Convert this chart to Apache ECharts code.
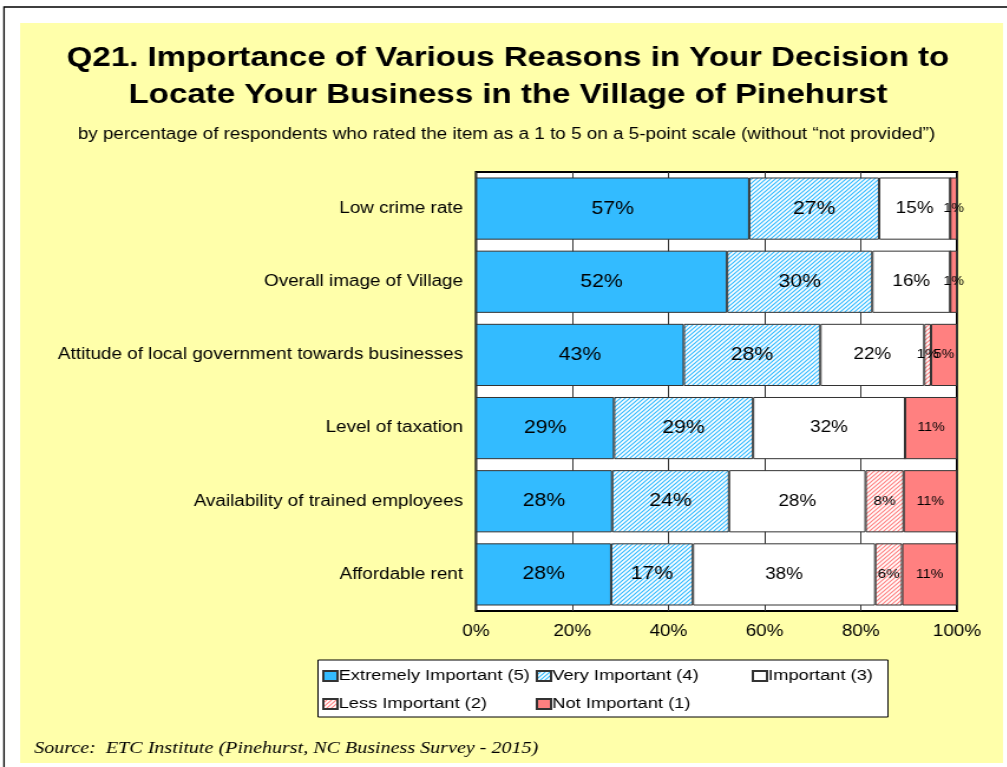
<!DOCTYPE html>
<html>
<head>
<meta charset="utf-8">
<script src="https://cdn.jsdelivr.net/npm/echarts@6/dist/echarts.min.js"></script>
<style>
  html, body { margin: 0; padding: 0; background: #ffffff; overflow: hidden; }
  /* the slide is laid out narrow and widened horizontally, like the printed handout */
  #chart { width: 853px; height: 767px; transform: scaleX(1.18); transform-origin: 0 0; }
</style>
</head>
<body>
<div id="chart"></div>
<script>
// Survey items (top to bottom)
const categories = [
  'Low crime rate',
  'Overall image of Village',
  'Attitude of local government towards businesses',
  'Level of taxation',
  'Availability of trained employees',
  'Affordable rent'
];

// Rating levels
const seriesNames = [
  'Extremely Important (5)',
  'Very Important (4)',
  'Important (3)',
  'Less Important (2)',
  'Not Important (1)'
];

// Percent of respondents per rating, one value per item
const extremelyImportant = [56.8, 52.2, 43.2, 28.7, 28.3, 28.1];
const veryImportant      = [27.0, 30.2, 28.4, 28.9, 24.3, 17.0];
const important          = [14.8, 16.2, 21.6, 31.6, 28.4, 37.9];
const lessImportant      = [0,    0,    1.4,  0,    7.9,  5.6];
const notImportant       = [1.4,  1.4,  5.4,  10.8, 11.1, 11.4];

const xTicks = [0, 20, 40, 60, 80, 100];

const titleText = 'Q21. Importance of Various Reasons in Your Decision to\nLocate Your Business in the Village of Pinehurst';
const subtitleText = 'by percentage of respondents who rated the item as a 1 to 5 on a 5-point scale (without \u201cnot provided\u201d)';
const sourceText = 'Source:  ETC Institute (Pinehurst, NC Business Survey - 2015)';

const FONT = '"Liberation Sans", Arial, sans-serif';

// Diagonal hatch fill used for the "4" and "2" ratings
function hatch(color) {
  const c = document.createElement('canvas');
  c.width = 4; c.height = 4;
  const g = c.getContext('2d');
  g.fillStyle = '#ffffff';
  g.fillRect(0, 0, 4, 4);
  g.strokeStyle = color;
  g.lineWidth = 1.2;
  g.beginPath();
  g.moveTo(-1, 5); g.lineTo(5, -1);
  g.moveTo(-1, 1); g.lineTo(1, -1);
  g.moveTo(3, 5); g.lineTo(5, 3);
  g.stroke();
  return { image: c, repeat: 'repeat' };
}

const BLUE = '#33BBFF';
const RED = '#FF8080';

const fills = [BLUE, hatch(BLUE), '#ffffff', hatch(RED), RED];
const values = [extremelyImportant, veryImportant, important, lessImportant, notImportant];
const labelSizes = [18, 18, 16, 13, 12];

const series = seriesNames.map((name, i) => ({
  name: name,
  type: 'bar',
  stack: 'total',
  barCategoryGap: '15%',
  data: values[i],
  itemStyle: { color: fills[i], borderColor: '#333333', borderWidth: 1 },
  label: {
    show: true,
    position: 'inside',
    color: '#000000',
    fontFamily: FONT,
    fontSize: labelSizes[i],
    formatter: p => (p.value > 0 ? Math.round(p.value) + '%' : '')
  },
  emphasis: { disabled: true }
}));

const legendCommon = {
  orient: 'vertical',
  itemWidth: 12,
  itemHeight: 10,
  itemGap: 12,
  icon: 'rect',
  textStyle: { fontFamily: FONT, fontSize: 15.5, color: '#000000', padding: [0, 0, 0, -4] },
  selectedMode: false
};

const chart = echarts.init(document.getElementById('chart'), null, { renderer: 'canvas' });

chart.setOption({
  backgroundColor: '#ffffff',
  animation: false,
  graphic: [
    // page frame
    { type: 'rect', z: -10, shape: { x: 3.4, y: 7, width: 900, height: 770 },
      style: { fill: '#ffffff', stroke: '#000000', lineWidth: 1.3 } },
    // yellow panel
    { type: 'rect', z: -9, shape: { x: 17, y: 23, width: 833, height: 740 },
      style: { fill: '#FFFFAA' } },
    // legend frame
    { type: 'rect', z: 0, shape: { x: 269.5, y: 660, width: 483, height: 57 },
      style: { fill: '#ffffff', stroke: '#000000', lineWidth: 1 } },
    // heading, two centred lines
    { type: 'text', x: 430.5, y: 40, z: 5,
      style: { text: titleText, fill: '#000000', font: 'bold 28px ' + FONT,
               align: 'center', verticalAlign: 'top', lineHeight: 37 } },
    // sub-heading
    { type: 'text', x: 429.2, y: 127, z: 5,
      style: { text: subtitleText, fill: '#000000', font: '16px ' + FONT,
               align: 'center', verticalAlign: 'top' } }
  ],
  title: [
    {
      text: sourceText,
      left: 24,
      top: 735,
      textStyle: { fontFamily: '"Liberation Serif", "Times New Roman", serif', fontSize: 17, fontStyle: 'italic', fontWeight: 'normal', color: '#000000' }
    }
  ],
  legend: [
    Object.assign({}, legendCommon, { left: 268, top: 663, data: [seriesNames[0], seriesNames[3]] }),
    Object.assign({}, legendCommon, { left: 449, top: 663, data: [seriesNames[1], seriesNames[4]] }),
    Object.assign({}, legendCommon, { left: 632, top: 663, data: [seriesNames[2]] })
  ],
  grid: {
    left: 403.4,
    right: 42,
    top: 172,
    bottom: 156,
    show: true,
    backgroundColor: '#ffffff',
    borderColor: '#000000',
    borderWidth: 2,
    containLabel: false
  },
  xAxis: {
    type: 'value',
    min: xTicks[0],
    max: xTicks[xTicks.length - 1],
    interval: 20,
    axisLine: { show: false },
    axisTick: { show: false },
    splitLine: { show: true, lineStyle: { color: '#333333', width: 1 } },
    axisLabel: {
      fontFamily: FONT, fontSize: 16, color: '#000000', margin: 13,
      formatter: v => v + '%'
    }
  },
  yAxis: {
    type: 'category',
    inverse: true,
    data: categories,
    axisLine: { show: false },
    axisTick: { show: false },
    axisLabel: { fontFamily: FONT, fontSize: 16, color: '#000000', margin: 11 }
  },
  series: series
});
</script>
</body>
</html>
